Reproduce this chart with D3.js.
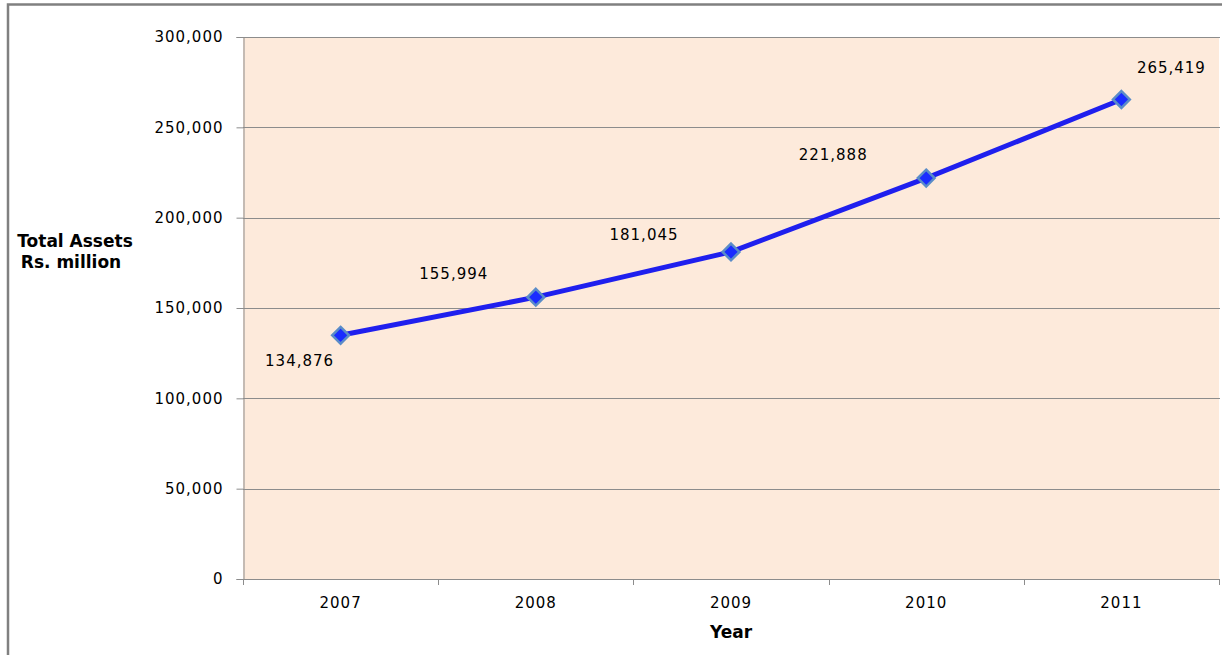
<!DOCTYPE html>
<html><head><meta charset="utf-8">
<script src="https://cdn.jsdelivr.net/npm/d3@7"></script>
<style>
html,body{margin:0;padding:0;background:#fff;}
svg{display:block;}
text{font-family:"DejaVu Sans",Verdana,sans-serif;}
</style></head>
<body>
<svg id="c" width="1222" height="655"></svg>
<script>
const years = ["2007","2008","2009","2010","2011"];
const totalAssets = [134876, 155994, 181045, 221888, 265419];
const yTicks = [0, 50000, 100000, 150000, 200000, 250000, 300000];

const svg = d3.select("#c");
const L = 243, R = 1219, T = 37, B = 579;

// outer border
svg.append("path").attr("d", `M8,655 V4.5 H1222`).attr("fill","none")
  .attr("stroke","#808080").attr("stroke-width",2.5);

const x = d3.scaleBand().domain(years).range([L, R]);
const y = d3.scaleLinear().domain([0, 300000]).range([B, T]);

svg.append("rect").attr("x",L).attr("y",T).attr("width",R-L).attr("height",B-T).attr("fill","#fdeadb");

// gridlines
svg.append("g").selectAll("line").data(yTicks.filter(d=>d>0)).join("line")
  .attr("x1",L).attr("x2",R+1).attr("y1",d=>Math.round(y(d))+0.5).attr("y2",d=>Math.round(y(d))+0.5)
  .attr("stroke","#8c8c8c").attr("stroke-width",1);

const fmt = d3.format(",");
// y axis
const yAxis = d3.axisLeft(y).tickValues(yTicks).tickFormat(fmt).tickSize(7).tickPadding(13);
const gy = svg.append("g").attr("transform",`translate(${L+0.5},0)`).call(yAxis);
gy.select(".domain").attr("stroke","#8c8c8c");
gy.selectAll(".tick line").attr("stroke","#8c8c8c");
gy.selectAll(".tick text").attr("font-size",15).attr("fill","#000").attr("font-family","DejaVu Sans").attr("letter-spacing","1px");

// x axis
const xAxis = d3.axisBottom(x).tickSize(0).tickPadding(18);
const gx = svg.append("g").attr("transform",`translate(0,${B+0.5})`).call(xAxis);
gx.select(".domain").attr("stroke","#8c8c8c").attr("d",`M${L},0H${R+1}`);
gx.selectAll(".tick text").attr("font-size",15).attr("fill","#000").attr("font-family","DejaVu Sans").attr("letter-spacing","1px");
// category boundary ticks
const bounds = years.map(d=>x(d)).concat([R]);
svg.append("g").selectAll("line").data(bounds).join("line")
  .attr("x1",d=>Math.round(d)+0.5).attr("x2",d=>Math.round(d)+0.5).attr("y1",B).attr("y2",B+6)
  .attr("stroke","#8c8c8c");

// line
const cx = d => x(d) + x.bandwidth()/2;
const line = d3.line().x((d,i)=>cx(years[i])).y(d=>y(d));
svg.append("path").datum(totalAssets).attr("d",line).attr("fill","none")
  .attr("stroke","#1f1fee").attr("stroke-width",5).attr("stroke-linejoin","round");

// markers
svg.append("g").selectAll("path").data(totalAssets).join("path")
  .attr("d", d3.symbol(d3.symbolDiamond2 || d3.symbolDiamond, 180)())
  .attr("transform",(d,i)=>`translate(${cx(years[i])},${y(d)})`)
  .attr("fill","#1a2cff").attr("stroke","#5a8cc8").attr("stroke-width",2.5);

// data labels
const offs = [[-41,26],[-82,-23],[-87,-17],[-93,-23],[50,-31]];
svg.append("g").selectAll("text").data(totalAssets).join("text")
  .attr("x",(d,i)=>cx(years[i])+offs[i][0]).attr("y",(d,i)=>y(d)+offs[i][1])
  .attr("text-anchor","middle").attr("dominant-baseline","central")
  .attr("font-size",15).attr("letter-spacing","1px").text(d=>fmt(d));

// axis titles
svg.append("text").attr("x",75).attr("y",241).attr("text-anchor","middle").attr("dominant-baseline","central")
  .attr("font-size",17).attr("font-weight","bold").text("Total Assets");
svg.append("text").attr("x",71).attr("y",262).attr("text-anchor","middle").attr("dominant-baseline","central")
  .attr("font-size",17).attr("font-weight","bold").text("Rs. million");
svg.append("text").attr("x",731).attr("y",632).attr("text-anchor","middle").attr("dominant-baseline","central")
  .attr("font-size",17).attr("font-weight","bold").text("Year");
</script>
</body></html>
